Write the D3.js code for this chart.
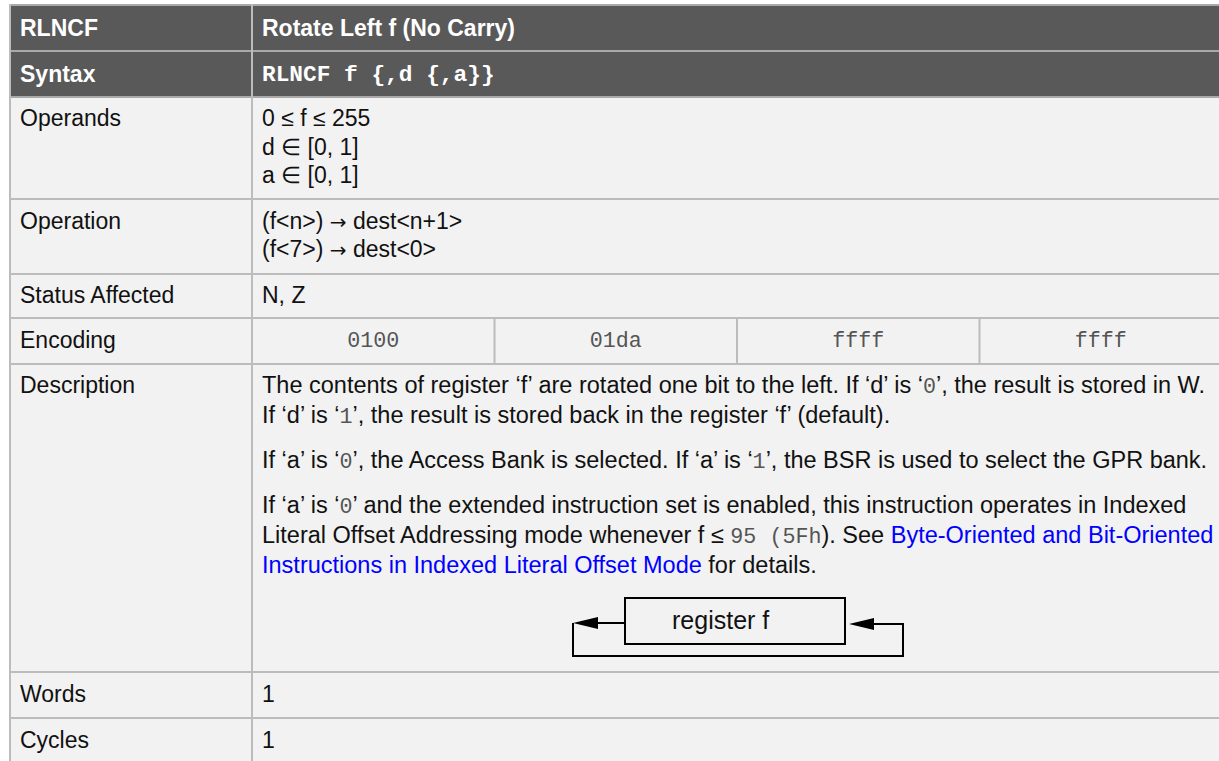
<!DOCTYPE html>
<html>
<head>
<meta charset="utf-8">
<script src="https://cdn.jsdelivr.net/npm/d3@7"></script>
<style>
  html, body { margin: 0; padding: 0; background: #ffffff; }
  svg { display: block; }
</style>
</head>
<body>
<div id="chart"></div>
<script>
// ---------- data ----------
const title = "RLNCF";
const titleDesc = "Rotate Left f (No Carry)";
const syntaxLabel = "Syntax";
const syntaxText = "RLNCF f {,d {,a}}";
const rowLabels = ["Operands", "Operation", "Status Affected", "Encoding", "Description", "Words", "Cycles"];
const operandLines = ["0 \u2264 f \u2264 255", "d \u2208 [0, 1]", "a \u2208 [0, 1]"];
const operationLines = [
  [["(f<n>) ", "s"], ["\u2192", "a"], [" dest<n+1>", "s"]],
  [["(f<7>) ", "s"], ["\u2192", "a"], [" dest<0>", "s"]]
];
const statusLines = ["N, Z"];
const encodingFields = ["0100", "01da", "ffff", "ffff"];
const descriptionLines = [
  [["The contents of register \u2018f\u2019 are rotated one bit to the left. If \u2018d\u2019 is \u2018", "s"], ["0", "m"], ["\u2019, the result is stored in W.", "s"]],
  [["If \u2018d\u2019 is \u2018", "s"], ["1", "m"], ["\u2019, the result is stored back in the register \u2018f\u2019 (default).", "s"]],
  [["If \u2018a\u2019 is \u2018", "s"], ["0", "m"], ["\u2019, the Access Bank is selected. If \u2018a\u2019 is \u2018", "s"], ["1", "m"], ["\u2019, the BSR is used to select the GPR bank.", "s"]],
  [["If \u2018a\u2019 is \u2018", "s"], ["0", "m"], ["\u2019 and the extended instruction set is enabled, this instruction operates in Indexed", "s"]],
  [["Literal Offset Addressing mode whenever f \u2264 ", "s"], ["95 (5Fh", "m"], ["). See ", "s"], ["Byte-Oriented and Bit-Oriented", "l"]],
  [["Instructions in Indexed Literal Offset Mode", "l"], [" for details.", "s"]]
];
const diagramLabel = "register f";
const wordsLines = ["1"];
const cyclesLines = ["1"];

// ---------- layout ----------
const W = 1219, H = 761;
const rowEdges = [5, 51, 97, 199, 274, 318, 364, 672, 718, 766];
const tableLeft = 10, tableRight = 1222, divider = 252;
const sans = "'Liberation Sans', Arial, sans-serif";
const mono = "'Liberation Mono', 'Courier New', monospace";
const arrowFont = "'DejaVu Sans', sans-serif";
const fs = 23;
const dfs = 23.5;
const border = "#bcbcbc";

const svg = d3.select("#chart").append("svg").attr("width", W).attr("height", H);

// backgrounds
const rowIdx = d3.range(rowEdges.length - 1);
svg.selectAll("rect.row").data(rowIdx).enter().append("rect")
  .attr("x", tableLeft).attr("width", tableRight - tableLeft)
  .attr("y", i => rowEdges[i]).attr("height", i => rowEdges[i + 1] - rowEdges[i])
  .attr("fill", i => i < 2 ? "#595959" : "#f2f2f2");

// horizontal borders
svg.selectAll("line.h").data(rowEdges.slice(0, -1)).enter().append("line")
  .attr("x1", tableLeft).attr("x2", tableRight).attr("y1", d => d).attr("y2", d => d)
  .attr("stroke", (d, i) => i <= 2 ? "#a9a9a9" : border).attr("stroke-width", 2);
// vertical borders
[tableLeft, divider].forEach(x => {
  svg.append("line").attr("x1", x).attr("x2", x).attr("y1", rowEdges[0] - 1).attr("y2", H)
    .attr("stroke", border).attr("stroke-width", 2);
});

// header texts
svg.append("text").attr("x", 20).attr("y", 36).text(title)
  .attr("font-family", sans).attr("font-size", fs).attr("font-weight", "bold").attr("fill", "#fff");
svg.append("text").attr("x", 262).attr("y", 36).text(titleDesc)
  .attr("font-family", sans).attr("font-size", fs).attr("font-weight", "bold").attr("fill", "#fff");
svg.append("text").attr("x", 20).attr("y", 82).text(syntaxLabel)
  .attr("font-family", sans).attr("font-size", fs).attr("font-weight", "bold").attr("fill", "#fff");
svg.append("text").attr("x", 262).attr("y", 81).text(syntaxText).attr("xml:space", "preserve")
  .attr("font-family", mono).attr("font-size", 22.8).attr("font-weight", "bold").attr("fill", "#fff");

// row labels
const labelBaselines = [126, 229, 303, 348, 393, 702, 748];
svg.selectAll("text.lbl").data(rowLabels).enter().append("text")
  .attr("x", 20).attr("y", (d, i) => labelBaselines[i]).text(d => d)
  .attr("font-family", sans).attr("font-size", fs).attr("fill", "#111");

// simple multi-line cells
function lines(arr, y0, step) {
  svg.append("g").selectAll("text").data(arr).enter().append("text")
    .attr("x", 262).attr("y", (d, i) => y0 + i * step).text(d => d)
    .attr("font-family", sans).attr("font-size", fs).attr("fill", "#111");
}
lines(operandLines, 126, 28.5);
lines(statusLines, 303, 0);
lines(wordsLines, 702, 0);
lines(cyclesLines, 748, 0);

// rich lines
function richLines(arr, baselines, size) {
  const t = svg.append("g").selectAll("text").data(arr).enter().append("text")
    .attr("x", 262).attr("y", (d, i) => baselines[i])
    .attr("xml:space", "preserve")
    .attr("font-family", sans).attr("font-size", size);
  t.selectAll("tspan").data(d => d).enter().append("tspan")
    .text(d => d[0])
    .attr("font-family", d => d[1] === "m" ? mono : d[1] === "a" ? arrowFont : sans)
    .attr("font-size", d => d[1] === "m" ? 21.7 : d[1] === "a" ? 20 : size)
    .attr("fill", d => d[1] === "l" ? "#0000ff" : d[1] === "m" ? "#555" : "#111");
}
richLines(operationLines, [229, 257], fs);

// encoding cells
const enc = d3.scaleBand().domain(d3.range(encodingFields.length)).range([divider, tableRight]);
svg.selectAll("line.enc").data(d3.range(1, encodingFields.length)).enter().append("line")
  .attr("x1", i => enc(i)).attr("x2", i => enc(i)).attr("y1", rowEdges[5]).attr("y2", rowEdges[6])
  .attr("stroke", border).attr("stroke-width", 2);
svg.selectAll("text.enc").data(encodingFields).enter().append("text")
  .attr("x", (d, i) => enc(i) + enc.bandwidth() / 2).attr("y", 347)
  .attr("text-anchor", "middle").text(d => d)
  .attr("font-family", mono).attr("font-size", 21.7).attr("fill", "#555");

// description
richLines(descriptionLines, [393, 423, 468, 513, 543, 573], dfs);

// diagram
const box = { x: 625, y: 598, w: 220, h: 46 };
const g = svg.append("g").attr("fill", "none").attr("stroke", "#000").attr("stroke-width", 2);
g.append("rect").attr("x", box.x).attr("y", box.y).attr("width", box.w).attr("height", box.h);
const ly = box.y + 25, ry = box.y + 26, loopY = box.y + 58, lx = box.x - 52, rx = box.x + box.w + 58;
const line = d3.line();
g.append("path").attr("d", line([[box.x, ly], [lx + 22, ly]]));
g.append("path").attr("d", line([[lx, ly], [lx, loopY], [rx, loopY], [rx, ry], [box.x + box.w + 26, ry]]));
const heads = [[lx, ly], [box.x + box.w + 4, ry]];
svg.selectAll("path.head").data(heads).enter().append("path")
  .attr("d", d => line([[d[0], d[1]], [d[0] + 25, d[1] - 6], [d[0] + 25, d[1] + 6]]) + "Z")
  .attr("fill", "#000");
svg.append("text").attr("x", box.x + 47).attr("y", box.y + 31).text(diagramLabel)
  .attr("font-family", sans).attr("font-size", 25).attr("fill", "#111");
</script>
</body>
</html>
